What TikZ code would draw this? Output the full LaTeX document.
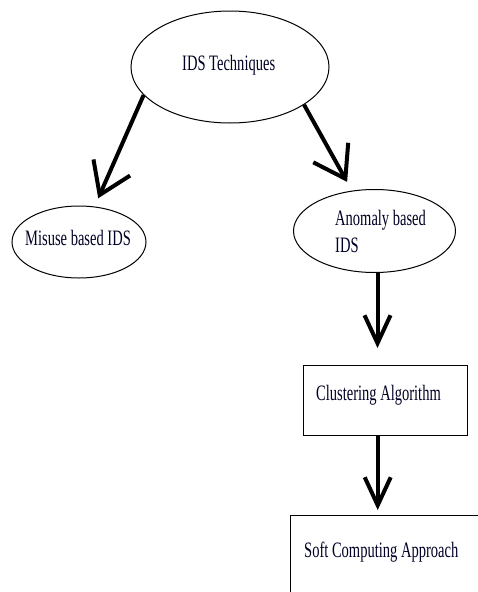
\documentclass[tikz,border=0pt]{standalone}
\usepackage{fontspec}
\setmainfont{Liberation Serif}
\usepackage{graphicx}
\usetikzlibrary{shapes.geometric,arrows.meta,calc}
\newcommand\sx[1]{\scalebox{0.66}[1]{#1}}
\begin{document}
\begin{tikzpicture}[x=1pt,y=-1pt,
  ell/.style={draw, ellipse, line width=1pt, inner sep=0pt},
  box/.style={draw, rectangle, line width=1.4pt, inner sep=0pt},
  txt/.style={font=\fontsize{22}{26.5}\selectfont, inner sep=0pt, anchor=base west, text=black!85!blue},
  arr/.style={line width=4pt, -{Straight Barb[length=30pt,width=40pt]}},
  varr/.style={line width=4pt, -{Straight Barb[length=28pt,width=26pt]}}]
\clip (0,0) rectangle (478,592);
\fill[white] (0,0) rectangle (478,592);
% ellipses
\node[ell, minimum width=198pt, minimum height=112pt] (top) at (230,67) {};
\node[ell, minimum width=134pt, minimum height=72pt] (misuse) at (79,242) {};
\node[ell, minimum width=162pt, minimum height=83pt] (anomaly) at (374.5,231) {};
% boxes
\node[box, minimum width=164pt, minimum height=70pt, anchor=north west] (clus) at (303,365) {};
\node[box, minimum width=220pt, minimum height=120pt, anchor=north west] (soft) at (290,515) {};
% texts
\node[txt] (toptxt) at (182,70) {\sx{IDS Techniques}};
\node[txt] (misusetxt) at (25,245) {\sx{Misuse based IDS}};
\node[txt] (anomtxt1) at (335,225) {\sx{Anomaly based}};
\node[txt] (anomtxt2) at (335,252) {\sx{IDS}};
\node[txt] (clustxt) at (316,400) {\sx{Clustering Algorithm}};
\node[txt] (softtxt) at (304,557) {\sx{Soft Computing Approach}};
% arrows
\draw[arr, shorten >=9pt] (top.198) -- (misuse);
\draw[arr, shorten >=10pt] (top.333) -- (anomaly);
\draw[varr, shorten >=17pt] ([xshift=3pt]anomaly.south) -- ([xshift=3pt]anomaly.south |- clus.north);
\draw[varr, shorten >=5pt] ([xshift=-8pt]clus.south) -- ([xshift=-8pt]clus.south |- soft.north);
\end{tikzpicture}
\end{document}
